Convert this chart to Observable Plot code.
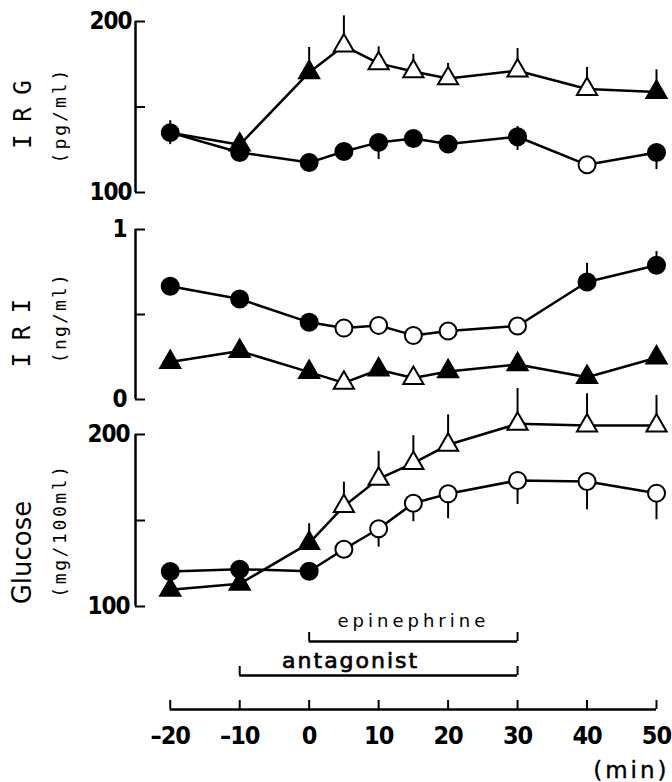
<!DOCTYPE html>
<html>
<head>
<meta charset="utf-8">
<script src="https://cdn.jsdelivr.net/npm/d3@7"></script>
<script src="https://cdn.jsdelivr.net/npm/@observablehq/plot@0.6"></script>
<style>
html, body { margin: 0; padding: 0; background: #fff; }
#chart { position: relative; width: 672px; height: 782px; overflow: hidden; background: #fff; }
#chart svg { position: absolute; left: 0; overflow: visible; background: transparent; }
</style>
</head>
<body>
<div id="chart"></div>
<script>
// ---------- data ----------
const minutes = [-20, -10, 0, 5, 10, 15, 20, 30, 40, 50];

// IRG (pg/ml)
const irgTicks = [100, 150, 200];
const irgTickLabelValues = [100, 200];
const irgTickLabels = ["100", "200"];
const irgCircle        = [135, 123.4, 117.5, 124, 129.3, 131.6, 128.3, 132.6, 116.2, 123.4];
const irgCircleOpen    = [0, 0, 0, 0, 0, 0, 0, 0, 1, 0];
const irgCircleErrUp   = [7, 0, 0, 0, 0, 0, 0, 6, 0, 0];
const irgCircleErrDown = [7, 0, 0, 0, 10, 0, 0, 8, 0, 10];
const irgTriangle      = [135, 127.9, 170.2, 185.8, 175.5, 170.8, 166.7, 171.2, 160.5, 158.7];
const irgTriangleOpen  = [0, 0, 0, 1, 1, 1, 1, 1, 1, 0];
const irgTriangleShown = [0, 1, 1, 1, 1, 1, 1, 1, 1, 1]; // -20: hidden behind the coincident circle
const irgTriangleErrUp = [0, 0, 14.6, 17.5, 9.7, 10, 8.8, 13, 12.6, 13];

// IRI (ng/ml)
const iriTicks = [0, 0.5, 1];
const iriTickLabelValues = [0, 1];
const iriTickLabels = ["0", "1"];
const iriCircle        = [0.666, 0.591, 0.454, 0.42, 0.436, 0.377, 0.403, 0.432, 0.691, 0.79];
const iriCircleOpen    = [0, 0, 0, 1, 1, 1, 1, 1, 0, 0];
const iriCircleErrUp   = [0, 0, 0, 0, 0, 0, 0, 0, 0.11, 0.08];
const iriTriangle      = [0.22, 0.285, 0.161, 0.098, 0.175, 0.126, 0.165, 0.206, 0.131, 0.246];
const iriTriangleOpen  = [0, 0, 0, 1, 0, 1, 0, 0, 0, 0];

// Glucose (mg/100ml)
const gluTicks = [100, 150, 200];
const gluTickLabelValues = [100, 200];
const gluTickLabels = ["100", "200"];
const gluCircle        = [120.3, 121.7, 120.5, 133.3, 145.2, 160, 165.5, 173.3, 172.7, 165.9];
const gluCircleOpen    = [0, 0, 0, 1, 1, 1, 1, 1, 1, 1];
const gluCircleErrDown = [0, 0, 0, 0, 10.7, 10.7, 14.5, 14, 16.5, 15.5];
const gluTriangle      = [109.7, 113.2, 136.8, 158.3, 174.2, 183.3, 194, 206.2, 205.2, 205.2];
const gluTriangleOpen  = [0, 0, 0, 1, 1, 1, 1, 1, 1, 1];
const gluTriangleErrUp = [0, 0, 11.3, 14, 16, 16, 17.4, 20.5, 18.5, 17.5];

// treatment periods
const treatmentLabels = ["epinephrine", "antagonist"];
const treatmentStart = [0, -10];
const treatmentEnd = [30, 30];

// x axis
const xTicks = [-20, -10, 0, 10, 20, 30, 40, 50];
const xTickLabels = ["\u201320", "\u201310", "0", "10", "20", "30", "40", "50"];
const xUnit = "(min)";

// ---------- layout ----------
const W = 672, ML = 135, MR = 16;
const xDomain = [-25, 50];
const NUMFONT = "DejaVu Sans Condensed";
const MONO = "DejaVu Sans Mono";
const SANS = "DejaVu Sans";

const spacing = {
  "(pg/ml)": 3, "(ng/ml)": 2.2, "(mg/100ml)": 2.6, "I R G": -1, "I R I": -1,
  "epinephrine": 4, "antagonist": 2, "(min)": 3
};

function rows(vals, open, up, down, shown) {
  return minutes.map((m, i) => ({
    m, v: vals[i], open: !!open[i],
    up: up ? up[i] : 0, down: down ? down[i] : 0,
    shown: shown ? !!shown[i] : true
  }));
}

function panel(cfg) {
  const circ = rows(cfg.circle, cfg.circleOpen, cfg.circleUp, cfg.circleDown);
  const tri = rows(cfg.tri, cfg.triOpen, cfg.triUp, cfg.triDown, cfg.triShown);
  const both = tri.concat(circ);
  const labelFmt = d => cfg.tickLabels[cfg.tickLabelValues.indexOf(d)];
  return Plot.plot({
    width: W, height: cfg.height,
    marginLeft: ML, marginRight: MR, marginTop: cfg.mt, marginBottom: cfg.mb,
    x: {domain: xDomain, axis: null},
    y: {domain: cfg.yDomain},
    color: {type: "identity"},
    marks: [
      Plot.ruleX([xDomain[0]], {y1: cfg.yDomain[0], y2: cfg.yDomain[1], stroke: "black", strokeWidth: 2.5}),
      Plot.ruleY(cfg.ticks, {y: d => d, x1: xDomain[0], x2: xDomain[0], insetRight: -10, stroke: "black", strokeWidth: 2}),
      Plot.axisY(cfg.tickLabelValues, {tickSize: 0, tickPadding: cfg.pad, tickFormat: labelFmt, label: null,
        fontSize: 24, fontFamily: NUMFONT, fontWeight: "bold", fill: "black"}),
      Plot.text([cfg.title], {frameAnchor: "left", textAnchor: "middle", rotate: -90, dx: cfg.titleDx, dy: cfg.titleDy,
        fontSize: cfg.titleSize, fontFamily: cfg.titleFont, fill: "black"}),
      Plot.text([cfg.unit], {frameAnchor: "left", textAnchor: "middle", rotate: -90, dx: cfg.unitDx, dy: cfg.unitDy,
        fontSize: 18, fontFamily: MONO, fill: "black"}),
      Plot.line(tri, {x: "m", y: "v", stroke: "black", strokeWidth: 2.5}),
      Plot.line(circ, {x: "m", y: "v", stroke: "black", strokeWidth: 2.5}),
      Plot.ruleX(both.filter(d => d.up > 0), {x: "m", y1: "v", y2: d => d.v + d.up, stroke: "black", strokeWidth: 2}),
      Plot.ruleX(both.filter(d => d.down > 0), {x: "m", y1: "v", y2: d => d.v - d.down, stroke: "black", strokeWidth: 2}),
      Plot.dot(tri.filter(d => d.shown), {x: "m", y: "v", symbol: "triangle", r: 7.5, fill: d => d.open ? "white" : "black", stroke: "black", strokeWidth: 2}),
      Plot.dot(circ, {x: "m", y: "v", r: 8.5, fill: d => d.open ? "white" : "black", stroke: "black", strokeWidth: 2})
    ]
  });
}

const p1 = panel({
  height: 200, mt: 21, mb: 8, yDomain: [100, 200],
  ticks: irgTicks, tickLabelValues: irgTickLabelValues, tickLabels: irgTickLabels, pad: 4,
  circle: irgCircle, circleOpen: irgCircleOpen, circleUp: irgCircleErrUp, circleDown: irgCircleErrDown,
  tri: irgTriangle, triOpen: irgTriangleOpen, triUp: irgTriangleErrUp, triShown: irgTriangleShown,
  title: "I R G", titleFont: MONO, titleSize: 24, titleDx: -112, titleDy: 8,
  unit: "(pg/ml)", unitDx: -75, unitDy: 8
});
const p2 = panel({
  height: 210, mt: 29, mb: 11, yDomain: [0, 1],
  ticks: iriTicks, tickLabelValues: iriTickLabelValues, tickLabels: iriTickLabels, pad: 9,
  circle: iriCircle, circleOpen: iriCircleOpen, circleUp: iriCircleErrUp,
  tri: iriTriangle, triOpen: iriTriangleOpen,
  title: "I R I", titleFont: MONO, titleSize: 24, titleDx: -113, titleDy: 19,
  unit: "(ng/ml)", unitDx: -75, unitDy: 3
});
const p3 = panel({
  height: 240, mt: 54, mb: 14, yDomain: [100, 200],
  ticks: gluTicks, tickLabelValues: gluTickLabelValues, tickLabels: gluTickLabels, pad: 6,
  circle: gluCircle, circleOpen: gluCircleOpen, circleDown: gluCircleErrDown,
  tri: gluTriangle, triOpen: gluTriangleOpen, triUp: gluTriangleErrUp,
  title: "Glucose", titleFont: SANS, titleSize: 26, titleDx: -113, titleDy: 32,
  unit: "(mg/100ml)", unitDx: -75, unitDy: 10
});

const brackets = treatmentLabels.map((label, i) => ({label, start: treatmentStart[i], end: treatmentEnd[i]}));
const bracketEnds = brackets.flatMap(b => [{label: b.label, x: b.start}, {label: b.label, x: b.end}]);
const mid = b => (b.start + b.end) / 2;

const p4 = Plot.plot({
  width: W, height: 182, marginLeft: ML, marginRight: MR, marginTop: 0, marginBottom: 0,
  x: {domain: xDomain, axis: null},
  y: {type: "point", domain: [...treatmentLabels, "axis"], range: [40, 109.3], padding: 0, axis: null},
  marks: [
    Plot.ruleY(brackets, {y: "label", x1: "start", x2: "end", stroke: "black", strokeWidth: 2.5}),
    Plot.ruleX(bracketEnds, {x: "x", y1: "label", y2: "label", insetTop: -9, stroke: "black", strokeWidth: 2}),
    Plot.text(brackets.filter(b => b.label === "epinephrine"), {x: mid, y: "label", text: "label", dy: -15,
      lineAnchor: "bottom", fontSize: 18, fontFamily: SANS, fill: "black"}),
    Plot.text(brackets.filter(b => b.label === "antagonist"), {x: mid, y: "label", text: "label", dx: -28, dy: -8,
      lineAnchor: "bottom", fontSize: 22, fontFamily: SANS, fill: "black", stroke: "black", strokeWidth: 0.7}),
    Plot.ruleY(["axis"], {y: d => d, x1: xTicks[0], x2: xTicks[xTicks.length - 1], stroke: "black", strokeWidth: 2.5}),
    Plot.ruleX(xTicks, {x: d => d, y1: () => "axis", y2: () => "axis", insetTop: -9, stroke: "black", strokeWidth: 2}),
    Plot.text(xTicks, {x: d => d, y: () => "axis", text: (d, i) => xTickLabels[i], dy: 34, lineAnchor: "bottom",
      fontSize: 25, fontFamily: NUMFONT, fontWeight: "bold", fill: "black"}),
    Plot.text([xUnit], {x: () => xTicks[xTicks.length - 1], y: () => "axis", textAnchor: "end", dx: 13, dy: 68,
      lineAnchor: "bottom", fontSize: 23, fontFamily: SANS, fill: "black", stroke: "black", strokeWidth: 0.4})
  ]
});

const chart = document.getElementById("chart");
[[p1, 0], [p2, 200], [p3, 380], [p4, 600]].forEach(([svg, top]) => {
  svg.style.position = "absolute";
  svg.style.top = top + "px";
  svg.style.left = "0px";
  svg.style.overflow = "visible";
  svg.style.background = "transparent";
  d3.select(svg).selectAll("text").each(function () {
    const t = this.textContent;
    if (spacing[t] != null) this.style.letterSpacing = spacing[t] + "px";
    else if (/^[\u2013\d]+$/.test(t)) this.style.letterSpacing = "-1px";
  });
  chart.appendChild(svg);
});
</script>
</body>
</html>
